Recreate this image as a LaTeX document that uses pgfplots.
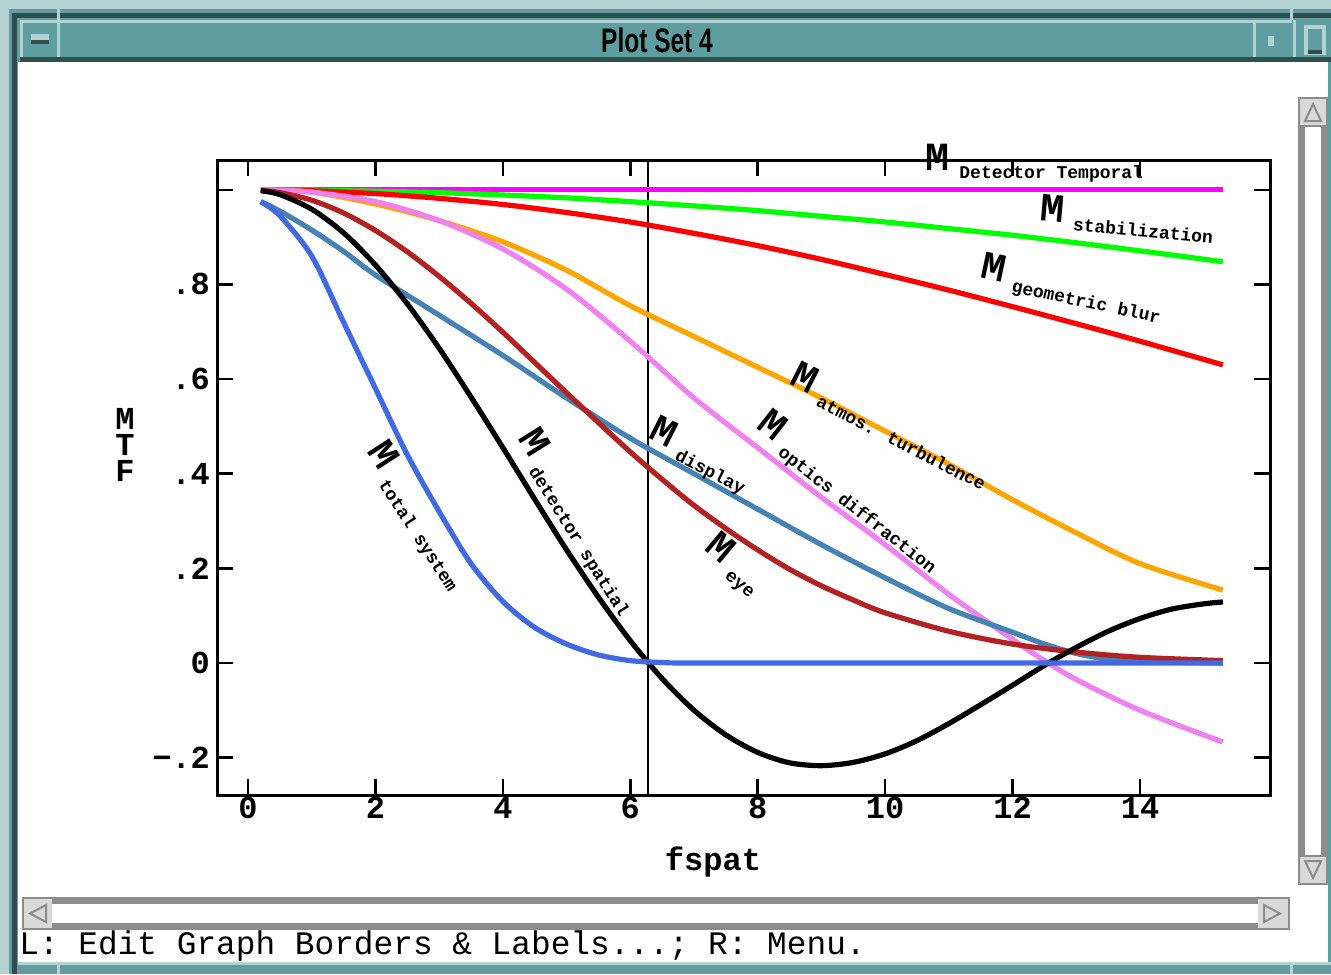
\documentclass[border=0pt]{standalone}
\usepackage{fontspec}
\setmainfont{Liberation Mono}
\newfontfamily\sansfont{Liberation Sans}
\usepackage{pgfplots}
\pgfplotsset{compat=1.18}
\definecolor{teal1}{HTML}{5F9EA0}
\definecolor{tealL}{HTML}{B4D2D2}
\definecolor{tealD}{HTML}{2F4F4F}
\definecolor{sgray}{HTML}{8C8C8C}
\definecolor{lgray}{HTML}{D9D9D9}
\definecolor{cMag}{HTML}{FF00FF}
\definecolor{cGrn}{HTML}{00FF00}
\definecolor{cRed}{HTML}{FF0000}
\definecolor{cOrg}{HTML}{FFA500}
\definecolor{cVio}{HTML}{EE82EE}
\definecolor{cStl}{HTML}{4682B4}
\definecolor{cFbr}{HTML}{B22222}
\definecolor{cRoy}{HTML}{4169E1}
\newcommand\Mk{{\fontsize{20}{20}\selectfont\bfseries M}}
\newcommand\lbl[1]{\Mk\hspace{5pt}\raisebox{-4pt}{\fontsize{9}{9}\selectfont\bfseries #1}}
\begin{document}
\begin{tikzpicture}
\begin{scope}[x=0.5pt,y=-0.5pt]
\path[use as bounding box] (0,0) rectangle (1331,974);
% window frame
\fill[teal1] (0,0) rectangle (1331,974);
\fill[tealL] (0,0) rectangle (1331,9);
\fill[tealL] (0,0) rectangle (9,974);
\fill[tealD] (12,13) rectangle (1331,18);
\fill[tealD] (12,13) rectangle (17,974);
% title bar
\fill[tealL] (20,20) rectangle (1292,23);
\fill[tealL] (20,20) rectangle (23,60);
\fill[tealD] (20,57) rectangle (1331,62);
\fill[tealL] (57,20) rectangle (60,57);
\fill[tealL] (1253,20) rectangle (1256,57);
\fill[tealL] (1293,20) rectangle (1296,57);
\fill[tealL] (31,34) rectangle (49,40);
\fill[tealD] (31,40) rectangle (49,44);
\fill[tealL] (1268,36) rectangle (1274,46);
\fill[tealL] (1304,25) rectangle (1326,55);
\fill[teal1] (1308,29) rectangle (1322,50);
\fill[tealD] (1308,50) rectangle (1322,54);
\fill[tealL] (57,0) rectangle (60,20);
\fill[tealL] (1290,0) rectangle (1293,20);
\node[font=\sansfont\bfseries\fontsize{17}{17}\selectfont] at (657,40) {\scalebox{0.72}[1]{Plot Set 4}};
% client area
\fill[white] (18,62) rectangle (1328,962);
% vertical scrollbar
\fill[sgray] (1298,97) rectangle (1328,885);
\fill[lgray] (1300,99) rectangle (1326,125);
\fill[lgray] (1300,857) rectangle (1326,883);
\fill[white] (1305,127) rectangle (1321,855);
\draw[sgray,line width=1pt] (1305,121) -- (1313,104) -- (1321,121) -- cycle;
\draw[sgray,line width=1pt] (1305,861) -- (1313,878) -- (1321,861) -- cycle;
% horizontal scrollbar
\fill[sgray] (22,897) rectangle (1290,930);
\fill[lgray] (24,899) rectangle (52,928);
\fill[lgray] (1258,899) rectangle (1288,928);
\fill[white] (52,904) rectangle (1258,923);
\draw[sgray,line width=1pt] (46,905) -- (30,913.5) -- (46,922) -- cycle;
\draw[sgray,line width=1pt] (1264,905) -- (1280,913.5) -- (1264,922) -- cycle;
\fill[tealL] (18,962) rectangle (1331,965);
\fill[tealL] (57,962) rectangle (60,974);
\fill[tealL] (1290,962) rectangle (1293,974);
\node[anchor=west,inner sep=0pt,font=\fontsize{16.4}{16.4}\selectfont] at (19,946) {L: Edit Graph Borders \& Labels...; R: Menu.};
\end{scope}
\begin{axis}[
  at={(108.5pt,-397.5pt)}, anchor=south west,
  width=526.5pt, height=317.5pt, scale only axis,
  xmin=-0.487, xmax=16.04, ymin=-0.279, ymax=1.063,
  axis line style={line width=1.5pt},
  every tick/.style={line width=1.3pt, black},
  major tick length=8pt,
  tick align=inside,
  xtick pos=both, ytick pos=both,
  xticklabel pos=lower, yticklabel pos=left,
  xtick={0,2,4,6,8,10,12,14},
  xticklabels={0,2,4,6,8,10,12,14},
  ytick={-0.2,0,0.2,0.4,0.6,0.8,1},
  yticklabels={−.2,0,.2,.4,.6,.8,{}},
  ticklabel style={font=\fontsize{16}{16}\selectfont\bfseries},
  xticklabel style={yshift=2.5pt},
  /pgf/number format/assume math mode=true,
  xlabel={fspat},
  xlabel style={font=\fontsize{16}{16}\selectfont\bfseries, at={(axis description cs:0.471,-0.1055)}, anchor=center},
  ylabel={M\\T\\F},
  ylabel style={rotate=-90, align=center, font=\fontsize{16}{13}\selectfont\bfseries, at={(axis description cs:-0.0874,0.551)}, anchor=center},
  every axis plot/.append style={line width=2.6pt},
]
\addplot[black, line width=1pt] coordinates {(6.28,-0.35) (6.28,1.1)};
\addplot[cMag] coordinates {(0.2,1.0) (15.3,1.0)};
\addplot[cGrn, smooth] coordinates {(0.2,1.0) (1,0.999) (2,0.997) (3,0.994) (4,0.989) (5,0.983) (6,0.975) (7,0.966) (8,0.956) (9,0.944) (10,0.932) (11,0.918) (12,0.904) (13,0.888) (14,0.871) (15.3,0.848)};
\addplot[cRed, smooth] coordinates {(0.2,1.0) (1,0.998) (2,0.992) (3,0.982) (4,0.969) (5,0.952) (6,0.932) (7,0.908) (8,0.882) (9,0.853) (10,0.821) (11,0.788) (12,0.753) (13,0.717) (14,0.680) (15.3,0.630)};
\addplot[cOrg, smooth] coordinates {(0.2,1.0) (1,0.995) (2,0.97) (3,0.935) (4,0.89) (5,0.83) (6,0.755) (7,0.69) (8,0.625) (9,0.56) (10,0.49) (11,0.42) (12,0.345) (13,0.275) (14,0.21) (15.3,0.154)};
\addplot[cVio, smooth] coordinates {(0.2,1.0) (1,0.995) (2,0.975) (3,0.935) (4,0.875) (5,0.79) (6,0.68) (7,0.56) (8,0.455) (9,0.35) (10,0.25) (11,0.145) (12,0.05) (12.5,0.005) (13,-0.035) (14,-0.10) (15.3,-0.167)};
\addplot[cStl, smooth] coordinates {(0.2,0.975) (0.5,0.955) (1,0.915) (1.5,0.87) (2,0.82) (3,0.735) (4,0.65) (5,0.56) (6,0.475) (7,0.40) (8,0.325) (9,0.25) (10,0.18) (11,0.115) (12,0.065) (12.5,0.04) (13,0.02) (13.5,0.008) (14,0.003) (15.3,0.0)};
\addplot[cFbr, smooth] coordinates {(0.2,0.999) (0.5,0.994) (1,0.978) (1.5,0.951) (2,0.914) (2.5,0.869) (3,0.817) (3.5,0.760) (4,0.699) (4.5,0.635) (5,0.571) (5.5,0.508) (6,0.446) (6.5,0.388) (7,0.333) (7.5,0.284) (8,0.239) (8.5,0.198) (9,0.163) (9.5,0.133) (10,0.106) (11,0.067) (12,0.040) (13,0.023) (14,0.012) (15.3,0.005)};
\addplot[black, smooth] coordinates {(0.2,0.998) (0.5,0.990) (1,0.959) (1.5,0.909) (2,0.841) (2.5,0.759) (3,0.665) (3.5,0.562) (4,0.455) (4.5,0.346) (5,0.239) (5.5,0.139) (6,0.047) (6.5,-0.033) (7,-0.100) (7.5,-0.152) (8,-0.189) (8.5,-0.211) (9,-0.217) (9.5,-0.210) (10,-0.192) (10.5,-0.164) (11,-0.128) (11.5,-0.088) (12,-0.047) (12.5,-0.005) (13,0.033) (13.5,0.067) (14,0.094) (14.5,0.114) (15,0.125) (15.3,0.129)};
\addplot[cRoy, smooth] coordinates {(0.2,0.975) (0.5,0.945) (1,0.86) (1.5,0.72) (2,0.58) (2.5,0.44) (3,0.32) (3.5,0.21) (4,0.13) (4.5,0.075) (5,0.04) (5.5,0.017) (6,0.005) (6.5,0.001) (7,0) (10,0) (15.3,0)};
\end{axis}
\begin{scope}[x=0.5pt,y=-0.5pt]
\node[anchor=base west,inner sep=0pt] at (925,170) {\lbl{Detector Temporal}};
\node[anchor=base west,inner sep=0pt,rotate=-5] at (1039,220) {\lbl{stabilization}};
\node[anchor=base west,inner sep=0pt,rotate=-12] at (979,277) {\lbl{geometric blur}};
\node[anchor=base west,inner sep=0pt,rotate=-27] at (788,383) {\lbl{atmos. turbulence}};
\node[anchor=base west,inner sep=0pt,rotate=-38] at (755,427) {\lbl{optics diffraction}};
\node[anchor=base west,inner sep=0pt,rotate=-27] at (647,437) {\lbl{display}};
\node[anchor=base west,inner sep=0pt,rotate=-40] at (703,549) {\lbl{eye}};
\node[anchor=base west,inner sep=0pt,rotate=-58] at (517,438) {\lbl{detector spatial}};
\node[anchor=base west,inner sep=0pt,rotate=-57] at (366,451) {\lbl{total system}};
\end{scope}
\end{tikzpicture}
\end{document}
